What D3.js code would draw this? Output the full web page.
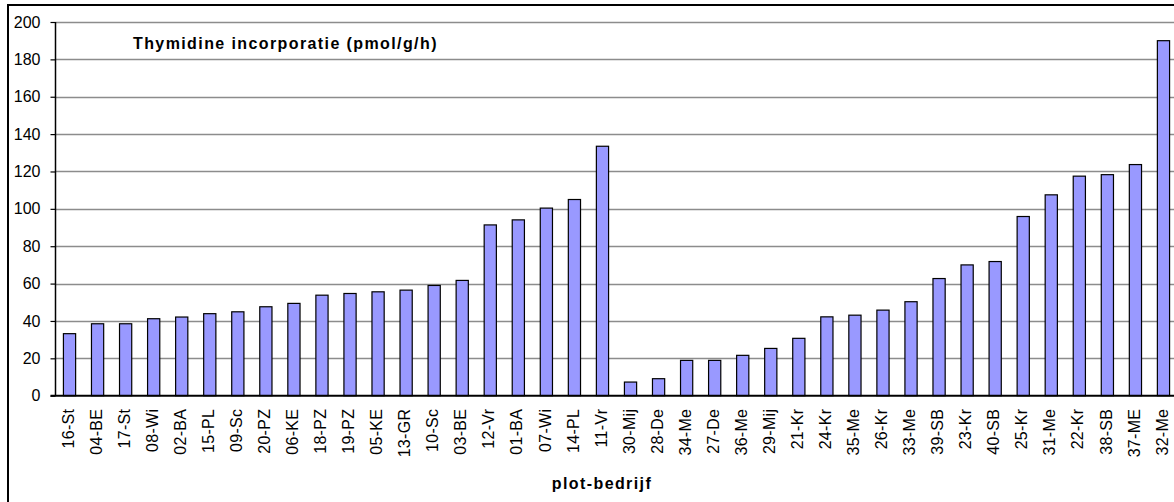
<!DOCTYPE html>
<html>
<head>
<meta charset="utf-8">
<script src="https://cdn.jsdelivr.net/npm/d3@7"></script>
<style>
  html, body { margin: 0; padding: 0; background: #fff; }
  svg { display: block; font-family: "Liberation Sans", Arial, sans-serif; }
</style>
</head>
<body>
<svg id="chart" width="1174" height="502"></svg>
<script>
const categories = ["16-St","04-BE","17-St","08-Wi","02-BA","15-PL","09-Sc","20-PZ","06-KE","18-PZ",
  "19-PZ","05-KE","13-GR","10-Sc","03-BE","12-Vr","01-BA","07-Wi","14-PL","11-Vr",
  "30-Mij","28-De","34-Me","27-De","36-Me","29-Mij","21-Kr","24-Kr","35-Me","26-Kr",
  "33-Me","39-SB","23-Kr","40-SB","25-Kr","31-Me","22-Kr","38-SB","37-ME","32-Me"];
const values = [33.2,38.5,38.5,41.2,42.1,43.9,44.9,47.6,49.4,53.8,
  54.7,55.6,56.5,59.0,61.7,91.4,94.1,100.4,105.0,133.5,
  7.3,9.1,18.9,18.9,21.6,25.3,30.7,42.2,43.1,45.8,
  50.3,62.7,70.0,71.8,95.9,107.5,117.5,118.3,123.7,190.0];
const yTicks = [0,20,40,60,80,100,120,140,160,180,200];
const chartTitle = "Thymidine incorporatie (pmol/g/h)";
const xAxisTitle = "plot-bedrijf";

const svg = d3.select("#chart");
const pLeft = 55.5, pRight = 1177.5, pTop = 22, pBottom = 395.7;

const x = d3.scaleBand().domain(categories).range([pLeft, pRight]).paddingInner(0.565).paddingOuter(0.2825);
const y = d3.scaleLinear().domain([0, 200]).range([pBottom, pTop]);

// outer border
svg.append("rect").attr("x", 8).attr("y", 5).attr("width", 1172).attr("height", 502)
  .attr("fill", "none").attr("stroke", "#000").attr("stroke-width", 2);

// gridlines
svg.append("g").selectAll("line").data(yTicks.filter(d => d > 0)).join("line")
  .attr("x1", pLeft).attr("x2", 1174)
  .attr("y1", d => Math.round(y(d)) + 0.5).attr("y2", d => Math.round(y(d)) + 0.5)
  .attr("stroke", "#8c8c8c").attr("stroke-width", 1.3);

// y axis
const yAxis = d3.axisLeft(y).tickValues(yTicks).tickSize(5).tickPadding(10);
const yg = svg.append("g").attr("transform", `translate(${pLeft},0)`).call(yAxis);
yg.select(".domain").attr("stroke", "#000").attr("stroke-width", 1.5).attr("d", `M0,${pTop}V${pBottom}`);
yg.selectAll(".tick line").attr("stroke", "#000").attr("stroke-width", 1.2);
yg.selectAll(".tick text").attr("font-size", 16).attr("fill", "#000")
  .attr("font-family", "'Liberation Sans', Arial, sans-serif");

// bars
svg.append("g").selectAll("rect").data(categories).join("rect")
  .attr("x", d => x(d))
  .attr("y", (d, i) => y(values[i]))
  .attr("width", x.bandwidth())
  .attr("height", (d, i) => y(0) - y(values[i]))
  .attr("fill", "#9999ff").attr("stroke", "#000").attr("stroke-width", 1.2);

// x axis
const xAxis = d3.axisBottom(x).tickSize(0).tickPadding(0);
const xg = svg.append("g").attr("transform", `translate(0,${pBottom})`).call(xAxis);
xg.select(".domain").attr("stroke", "#000").attr("stroke-width", 2).attr("d", `M${pLeft - 5},0H1174`);
xg.selectAll(".tick text")
  .attr("font-size", 16).attr("fill", "#000")
  .attr("font-family", "'Liberation Sans', Arial, sans-serif")
  .attr("letter-spacing", 0.3)
  .attr("text-anchor", "end")
  .attr("transform", "rotate(-90)")
  .attr("x", -13).attr("y", 0).attr("dy", "0.26em");

// titles
svg.append("text").attr("x", 133).attr("y", 48.5)
  .attr("font-size", 16).attr("font-weight", "bold").attr("letter-spacing", 1.4)
  .text(chartTitle);
svg.append("text").attr("x", 602).attr("y", 489).attr("text-anchor", "middle")
  .attr("font-size", 16).attr("font-weight", "bold").attr("letter-spacing", 1.4)
  .text(xAxisTitle);
</script>
</body>
</html>
